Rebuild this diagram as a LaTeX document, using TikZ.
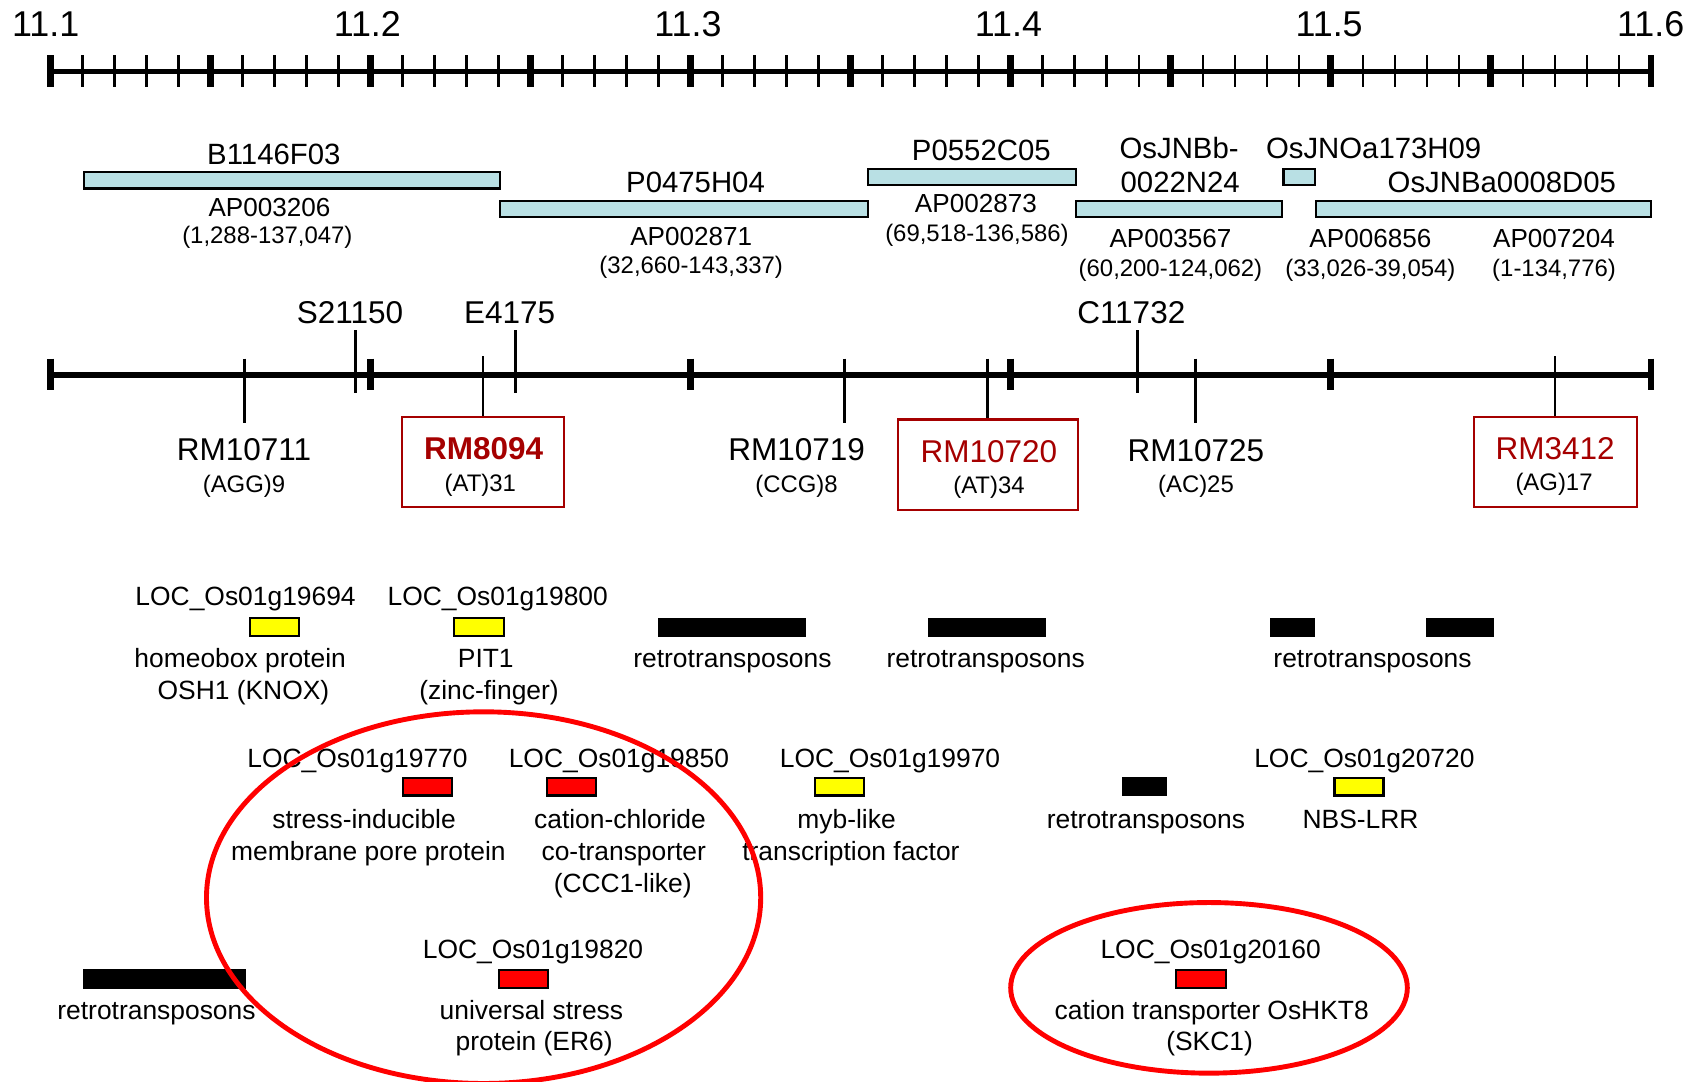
\documentclass[tikz,border=0pt]{standalone}
\usepackage{fontspec}
\setmainfont{Liberation Sans}
\newcommand\myfs[1]{\fontsize{#1}{#1}\selectfont}
\definecolor{clonefill}{RGB}{185,224,228}
\definecolor{mkred}{RGB}{165,0,0}
\definecolor{hlred}{RGB}{255,0,0}
\definecolor{genyel}{RGB}{255,255,0}
\tikzset{
  txt/.style={anchor=base,inner sep=0pt},
  scalelbl/.style={txt,font=\myfs{33}},
  clonelbl/.style={txt,font=\myfs{27}},
  acclbl/.style={txt,font=\myfs{24}},
  rangelbl/.style={txt,font=\myfs{22}},
  mklbl/.style={txt,font=\myfs{29}},
  replbl/.style={txt,font=\myfs{22}},
  genelbl/.style={txt,font=\myfs{24.3}},
  axisline/.style={line width=4.5pt},
  minortick/.style={line width=2.2pt},
  majortick/.style={line width=6pt},
  clonebar/.style={draw=black,line width=2pt,fill=clonefill},
  mkline/.style={line width=2.5pt},
  mkbox/.style={draw=mkred,line width=2pt,inner sep=0pt},
  ybox/.style={draw=black,line width=2pt,fill=genyel},
  rbox/.style={draw=black,line width=2pt,fill=hlred},
  retro/.style={fill=black},
  hlring/.style={draw=hlred,line width=4.5pt}
}
\begin{document}
\begin{tikzpicture}[x=1pt,y=-1pt]
\useasboundingbox (0,0) rectangle (1568,995);
% ---------- top scale ----------
\draw[axisline] (46.5,66) -- (1519,66);
\foreach \i in {0,...,50} \draw[minortick] ({46.5+\i*29.45},51) -- ({46.5+\i*29.45},80);
\foreach \i in {0,5,...,50} \draw[majortick] ({46.5+\i*29.45},51) -- ({46.5+\i*29.45},80);
\node[scalelbl] (s1) at (42,34) {11.1};
\node[scalelbl] (s2) at (338,34) {11.2};
\node[scalelbl] (s3) at (633,34) {11.3};
\node[scalelbl] (s4) at (928,34) {11.4};
\node[scalelbl] (s5) at (1223,34) {11.5};
\node[scalelbl] (s6) at (1519,34) {11.6};
% ---------- clones ----------
\draw[clonebar] (77,158.5) rectangle (460,173.5);
\draw[clonebar] (460,185) rectangle (799,200);
\draw[clonebar] (799,155.5) rectangle (990,170);
\draw[clonebar] (990,185) rectangle (1180,200);
\draw[clonebar] (1181,155.5) rectangle (1210,170);
\draw[clonebar] (1211,185) rectangle (1519,200);
\node[clonelbl] (c1) at (252,151) {B1146F03};
\node[clonelbl] (c2) at (640,177) {P0475H04};
\node[clonelbl] (c3) at (903,148) {P0552C05};
\node[clonelbl] (c4a) at (1085,146) {OsJNBb-};
\node[clonelbl] (c4b) at (1086,177) {0022N24};
\node[clonelbl] (c5) at (1264,146) {OsJNOa173H09};
\node[clonelbl] (c6) at (1382,177) {OsJNBa0008D05};
\node[acclbl] (a1) at (248,199) {AP003206};
\node[acclbl] (a2) at (636,226) {AP002871};
\node[acclbl] (a3) at (898,196) {AP002873};
\node[acclbl] (a4) at (1077,228) {AP003567};
\node[acclbl] (a5) at (1261,228) {AP006856};
\node[acclbl] (a6) at (1430,228) {AP007204};
\node[rangelbl] (r1) at (246,224) {(1,288-137,047)};
\node[rangelbl] (r2) at (636,252) {(32,660-143,337)};
\node[rangelbl] (r3) at (899,222) {(69,518-136,586)};
\node[rangelbl] (r4) at (1077,254) {(60,200-124,062)};
\node[rangelbl] (r5) at (1261,254) {(33,026-39,054)};
\node[rangelbl] (r6) at (1430,254) {(1-134,776)};
% ---------- chromosome ----------
\draw[axisline,line width=5pt] (46.5,345) -- (1519,345);
\foreach \x in {46.5,341,635.5,930,1224.5,1519} \draw[majortick] (\x,330) -- (\x,359);
% marker boxes
\node[mkbox,minimum width=149pt,minimum height=83pt] (b8094) at (444.5,425) {};
\node[mkbox,minimum width=166pt,minimum height=83pt] (b10720) at (909,427.5) {};
\node[mkbox,minimum width=150pt,minimum height=83pt] (b3412) at (1431,425) {};
% marker ticks
\coordinate (m10711a) at (225,330); \coordinate (m10711b) at (225,389);
\coordinate (s21150a) at (327,304); \coordinate (s21150b) at (327,362);
\coordinate (m8094) at (444.5,328);
\coordinate (e4175a) at (474.5,304); \coordinate (e4175b) at (474.5,362);
\coordinate (m10719a) at (777,330); \coordinate (m10719b) at (777,389);
\coordinate (m10720) at (909,330);
\coordinate (c11732a) at (1046.5,304); \coordinate (c11732b) at (1046.5,362);
\coordinate (m10725a) at (1100,330); \coordinate (m10725b) at (1100,389);
\coordinate (m3412) at (1431,328);
\draw[mkline] (m10711a) -- (m10711b);
\draw[mkline] (s21150a) -- (s21150b);
\draw[mkline] (m8094) -- (b8094.north);
\draw[mkline] (e4175a) -- (e4175b);
\draw[mkline] (m10719a) -- (m10719b);
\draw[mkline] (m10720) -- (b10720.north);
\draw[mkline] (c11732a) -- (c11732b);
\draw[mkline] (m10725a) -- (m10725b);
\draw[mkline] (m3412) -- (b3412.north);
\node[mklbl] (ls21150) at (322,298) {S21150};
\node[mklbl] (le4175) at (469,298) {E4175};
\node[mklbl] (lc11732) at (1041,298) {C11732};
\node[mklbl] (l10711) at (224.5,424) {RM10711};
\node[replbl] (p10711) at (224.5,453) {(AGG)9};
\node[mklbl,text=mkred,font=\myfs{29}\bfseries] (l8094) at (445,423) {RM8094};
\node[replbl] (p8094) at (442,452) {(AT)31};
\node[mklbl] (l10719) at (733,424) {RM10719};
\node[replbl] (p10719) at (733,453) {(CCG)8};
\node[mklbl,text=mkred] (l10720) at (910,426) {RM10720};
\node[replbl] (p10720) at (910,454) {(AT)34};
\node[mklbl] (l10725) at (1100.5,425) {RM10725};
\node[replbl] (p10725) at (1100.5,453) {(AC)25};
\node[mklbl,text=mkred] (l3412) at (1431,423) {RM3412};
\node[replbl] (p3412) at (1430,451) {(AG)17};
% ---------- genes row 1 ----------
\draw[ybox] (230,569) rectangle (275,585);
\draw[ybox] (418,569) rectangle (463.5,585);
\draw[retro] (606,568.5) rectangle (740.5,585);
\draw[retro] (854,568.5) rectangle (962,585);
\draw[retro] (1169,568.5) rectangle (1209,585);
\draw[retro] (1312,568.5) rectangle (1374,585);
\node[genelbl] (g1) at (226,557.5) {LOC\_Os01g19694};
\node[genelbl] (g1a) at (221,614) {homeobox protein};
\node[genelbl] (g1b) at (224,643.5) {OSH1 (KNOX)};
\node[genelbl] (g2) at (458,557.5) {LOC\_Os01g19800};
\node[genelbl] (g2a) at (447,614) {PIT1};
\node[genelbl] (g2b) at (450,643.5) {(zinc-finger)};
\node[genelbl] (rt1) at (674,614) {retrotransposons};
\node[genelbl] (rt2) at (907,614) {retrotransposons};
\node[genelbl] (rt3) at (1263,614) {retrotransposons};
% ---------- genes row 2 ----------
\draw[rbox] (371,716) rectangle (416,732);
\draw[rbox] (503,716) rectangle (548.5,732);
\draw[ybox] (750,716) rectangle (795,732);
\draw[retro] (1032.5,715.5) rectangle (1073,732);
\draw[ybox] (1228,716) rectangle (1273,732);
\node[genelbl] (g3) at (329,706.5) {LOC\_Os01g19770};
\node[genelbl] (g3a) at (335,762) {stress-inducible};
\node[genelbl] (g3b) at (339,791.5) {membrane pore protein};
\node[genelbl] (g4) at (569.5,706.5) {LOC\_Os01g19850};
\node[genelbl] (g4a) at (570.5,762) {cation-chloride};
\node[genelbl] (g4b) at (574,791.5) {co-transporter};
\node[genelbl] (g4c) at (573,821) {(CCC1-like)};
\node[genelbl] (g5) at (819,706.5) {LOC\_Os01g19970};
\node[genelbl] (g5a) at (779,762) {myb-like};
\node[genelbl] (g5b) at (783,791.5) {transcription factor};
\node[genelbl] (rt4) at (1054.5,762) {retrotransposons};
\node[genelbl] (g6) at (1255.5,706.5) {LOC\_Os01g20720};
\node[genelbl] (g6a) at (1252,762) {NBS-LRR};
% ---------- genes row 3 ----------
\draw[retro] (77,892) rectangle (225.5,909);
\draw[rbox] (459,892.5) rectangle (504.5,909);
\draw[rbox] (1082,892.5) rectangle (1128,909);
\node[genelbl] (rt5) at (144,938) {retrotransposons};
\node[genelbl] (g7) at (490.5,882) {LOC\_Os01g19820};
\node[genelbl] (g7a) at (489,938) {universal stress};
\node[genelbl] (g7b) at (491.5,967) {protein (ER6)};
\node[genelbl] (g8) at (1114,882) {LOC\_Os01g20160};
\node[genelbl] (g8a) at (1115,938) {cation transporter OsHKT8};
\node[genelbl] (g8b) at (1113,967) {(SKC1)};
% ---------- highlight rings ----------
\draw[hlring] (445,826) ellipse [x radius=255, y radius=171];
\draw[hlring] (1112.5,909) ellipse [x radius=182.5, y radius=78.5];
\end{tikzpicture}
\end{document}
